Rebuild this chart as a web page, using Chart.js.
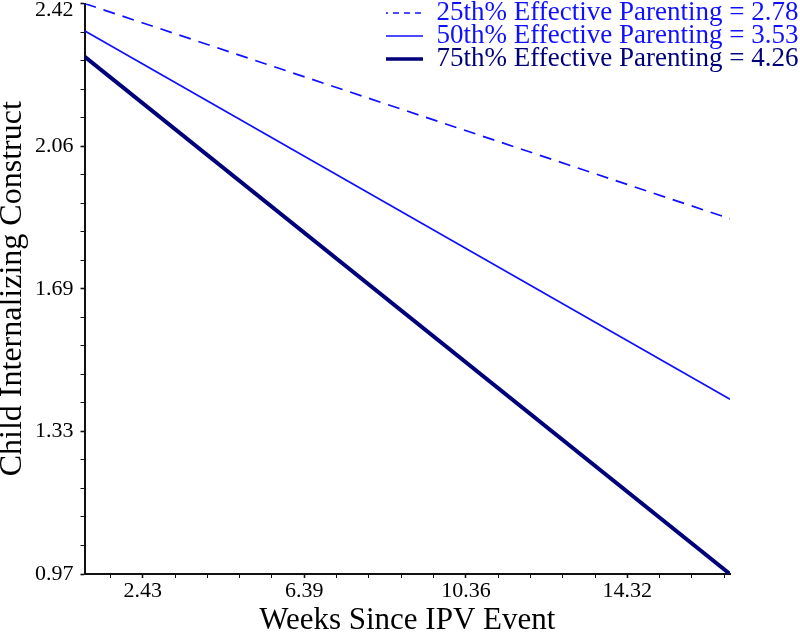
<!DOCTYPE html>
<html>
<head>
<meta charset="utf-8">
<script src="https://cdn.jsdelivr.net/npm/chart.js@4/dist/chart.umd.min.js"></script>
<style>
html,body{margin:0;padding:0;background:#fff;}
#wrap{width:800px;height:636px;}
canvas{display:block;}
</style>
</head>
<body>
<div id="wrap"><canvas id="c" width="800" height="636"></canvas></div>
<script>
// ---- data ----
const weeks = [1.0, 16.84];
const p25Values = [2.42, 1.873];
const p50Values = [2.351, 1.414];
const p75Values = [2.285, 0.97];
const seriesLabels = [
  '25th% Effective Parenting = 2.78',
  '50th% Effective Parenting = 3.53',
  '75th% Effective Parenting = 4.26'
];
const xMajorTicks = [2.43, 6.39, 10.36, 14.32];
const xMajorLabels = ['2.43', '6.39', '10.36', '14.32'];
const yMajorTicks = [0.97, 1.3325, 1.695, 2.0575, 2.42];
const yMajorLabels = ['0.97', '1.33', '1.69', '2.06', '2.42'];
const xRange = [1.0, 16.84];
const yRange = [0.97, 2.42];

const BLUE = '#1010ff';
const NAVY = '#00007a';
const SERIF = "'Liberation Serif', 'Times New Roman', serif";

// minor ticks: 4 between each pair of major ticks
function withMinors(majors, lo, hi) {
  const out = [];
  const step = (majors[1] - majors[0]) / 5;
  for (let v = majors[0] - step; v >= lo - 1e-9; v -= step) out.push(v);
  for (let i = 0; i < majors.length; i++) {
    out.push(majors[i]);
    if (i < majors.length - 1) {
      const s = (majors[i + 1] - majors[i]) / 5;
      for (let k = 1; k < 5; k++) out.push(majors[i] + k * s);
    }
  }
  const lastStep = (majors[majors.length - 1] - majors[majors.length - 2]) / 5;
  for (let v = majors[majors.length - 1] + lastStep; v <= hi + 1e-9; v += lastStep) out.push(v);
  return out.sort((a, b) => a - b);
}
function majorIndex(majors, v) {
  for (let i = 0; i < majors.length; i++) if (Math.abs(majors[i] - v) < 1e-6) return i;
  return -1;
}

const pts = (ys) => weeks.map((x, i) => ({x: x, y: ys[i]}));

const legendPlacer = {
  id: 'legendPlacer',
  afterLayout(chart) {
    const lg = chart.legend;
    if (!lg) return;
    lg.left = 386; lg.right = 800; lg.width = 414;
    lg.top = 0; lg.bottom = 636; lg.height = 636;
  }
};

new Chart(document.getElementById('c'), {
  type: 'line',
  data: {
    datasets: [
      {label: seriesLabels[0], data: pts(p25Values), borderColor: BLUE, backgroundColor: BLUE,
       borderWidth: 1.7, borderDash: [12, 8], pointRadius: 0, tension: 0, fill: false},
      {label: seriesLabels[1], data: pts(p50Values), borderColor: BLUE, backgroundColor: BLUE,
       borderWidth: 1.7, pointRadius: 0, tension: 0, fill: false},
      {label: seriesLabels[2], data: pts(p75Values), borderColor: NAVY, backgroundColor: NAVY,
       borderWidth: 4, pointRadius: 0, tension: 0, fill: false}
    ]
  },
  options: {
    responsive: false,
    animation: false,
    devicePixelRatio: 1,
    layout: {padding: {top: 3.5, right: 70, left: 0, bottom: 0}},
    plugins: {
      tooltip: {enabled: false},
      legend: {
        position: 'chartArea',
        align: 'start',
        title: {display: true, text: '', padding: 0, font: {size: 10, lineHeight: 0.35}},
        labels: {
          usePointStyle: true,
          pointStyle: 'line',
          pointStyleWidth: 41,
          padding: -4,
          font: {family: SERIF, size: 27},
          generateLabels(chart) {
            const items = Chart.defaults.plugins.legend.labels.generateLabels(chart);
            const colors = [BLUE, BLUE, NAVY];
            const widths = [1.7, 1.7, 3.5];
            items.forEach((it, i) => {
              it.fontColor = colors[i];
              it.strokeStyle = colors[i];
              it.lineWidth = widths[i];
              it.pointStyle = 'line';
              it.lineDash = i === 0 ? [6, 5] : [];
            });
            return items;
          }
        }
      }
    },
    scales: {
      x: {
        type: 'linear',
        min: xRange[0], max: xRange[1],
        bounds: 'data',
        afterBuildTicks(scale) {
          scale.ticks = withMinors(xMajorTicks, xRange[0], xRange[1]).map(v => ({value: v}));
        },
        afterFit(scale) {
          scale.height = 62;
          scale.paddingLeft = 0;
          scale.paddingRight = 0;
        },
        grid: {
          drawOnChartArea: false, drawTicks: true, tickLength: 4,
          tickColor: '#111',
          tickWidth: (ctx) => (ctx.tick && majorIndex(xMajorTicks, ctx.tick.value) >= 0 ? 1.6 : 1)
        },
        border: {display: true, color: '#111', width: 2},
        ticks: {
          autoSkip: false, maxRotation: 0, minRotation: 0, padding: 0,
          color: '#000',
          font: {family: SERIF, size: 22},
          callback(value) {
            const i = majorIndex(xMajorTicks, value);
            return i >= 0 ? xMajorLabels[i] : '';
          }
        },
        title: {
          display: true, text: 'Weeks Since IPV Event', color: '#000',
          font: {family: SERIF, size: 31, lineHeight: 1.0},
          padding: 0
        }
      },
      y: {
        type: 'linear',
        min: yRange[0], max: yRange[1],
        bounds: 'data',
        afterBuildTicks(scale) {
          scale.ticks = withMinors(yMajorTicks, yRange[0], yRange[1]).map(v => ({value: v}));
        },
        afterFit(scale) {
          scale.width = 84.5;
          scale.paddingTop = 0;
          scale.paddingBottom = 0;
        },
        grid: {
          drawOnChartArea: false, drawTicks: true, tickLength: 4,
          tickColor: '#111',
          tickWidth: (ctx) => (ctx.tick && majorIndex(yMajorTicks, ctx.tick.value) >= 0 ? 1.6 : 1)
        },
        border: {display: true, color: '#111', width: 2},
        ticks: {
          autoSkip: false, padding: 7,
          color: '#000',
          font: (ctx) => ({
            family: SERIF, size: 22,
            lineHeight: (ctx.tick && Math.abs(ctx.tick.value - yRange[1]) < 1e-6) ? 0.64 : 1.2
          }),
          callback(value) {
            const i = majorIndex(yMajorTicks, value);
            if (i < 0) return '';
            if (Math.abs(value - yRange[1]) < 1e-6) return ['', yMajorLabels[i]];
            return yMajorLabels[i];
          }
        },
        title: {
          display: true, text: 'Child Internalizing Construct', color: '#000',
          font: {family: SERIF, size: 32, lineHeight: 0.76},
          padding: 0
        }
      }
    }
  },
  plugins: [legendPlacer]
});
</script>
</body>
</html>
